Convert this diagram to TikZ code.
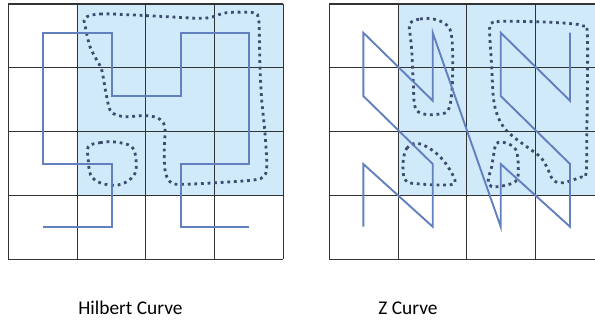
\documentclass[tikz,border=0pt]{standalone}
\usepackage{fontspec}
\setmainfont{Carlito}
\usetikzlibrary{positioning,calc}
\definecolor{CellBlue}{RGB}{208,234,250}
\definecolor{CurveBlue}{RGB}{98,128,192}
\definecolor{BlobGray}{RGB}{62,76,112}
\tikzset{
	cell/.style={draw=black!80,line width=1.1pt},
	zone/.style={fill=CellBlue,draw=none},
	curve/.style={draw=CurveBlue,line width=1.9pt,line join=miter},
	blob/.style={draw=BlobGray,line width=2.8pt,dash pattern=on 2.8pt off 3.8pt},
	caption/.style={font=\fontsize{19.4}{22}\selectfont,inner sep=0pt},
}

\begin{document}
\begin{tikzpicture}[x=1pt,y=-1pt]
					\useasboundingbox (0,0) rectangle (595,320);
					\clip (0,0) rectangle (595,320);
					\fill[zone] (77.3,4) rectangle (283.3,196);
					\fill[zone] (398,4) rectangle (604,196);
					\foreach \gx in {8.3,329.3} {
						\foreach \i in {0,...,4} {
							\draw[cell] ({\gx+68.75*\i},4) -- ({\gx+68.75*\i},259.3);
							\draw[cell] (\gx,{4+63.83*\i}) -- ({\gx+275},{4+63.83*\i});
						}
					}
					\foreach \n/\p in {1/{43.3,227.3},2/{111.7,227.3},3/{111.7,164},4/{43.3,164},
						5/{43.3,32.7},6/{111.7,32.7},7/{111.7,96},8/{180.7,96},9/{180.7,32.7},
						10/{248.7,32.7},11/{248.7,164},12/{180.7,164},13/{180.7,227.3},14/{248.7,227.3}}
					\coordinate (h\n) at (\p);
					\foreach \n/\p in {1/{363.3,226.7},2/{363.3,164},3/{432.7,226.7},4/{432.7,164},
						5/{363.3,96},6/{363.3,32.7},7/{432.7,100.7},8/{432.7,32.7},
						9/{500.7,226.7},10/{500.7,164},11/{570,226.7},12/{570,164},
						13/{500.7,96},14/{500.7,32.7},15/{570,100.7},16/{570,32.7}}
					\coordinate (z\n) at (\p);
					\draw[blob] plot[smooth cycle,tension=0.6] coordinates {(85,18.3) (100,14) (133.3,15) (166.7,16.7) (200,18.3) (213.3,16.7) (226.7,12.7) (253.3,12.7) (258.3,18.3) (259.3,33.3) (260,66.7) (261.7,100) (265,133.3) (266.7,166.7) (263.3,176.7) (253.3,180) (216.7,182.7) (180,184.3) (170,181.7) (165,170) (164.3,146.7) (165,128.3) (160,119.3) (146.7,115.7) (126.7,116.7) (116.7,115) (110,110) (106,93.3) (101.7,70) (96.7,60) (90,46.7) (86,30)};
					\draw[blob] plot[smooth cycle,tension=0.6] coordinates {(88.3,146.7) (100,142.7) (115,142) (131.7,146.7) (136,160) (135,173.3) (126.7,181.7) (115,185.3) (100,182.7) (90.7,175) (88.3,160)};
					\draw[blob] plot[smooth cycle,tension=0.6] coordinates {(410,23.3) (420,19) (433.3,19) (446.7,25) (451.7,36.7) (452.7,66.7) (451.7,93.3) (448.3,110) (440,114) (423.3,114) (415,106.7) (413.3,83.3) (411.7,50) (410,33.3)};
					\draw[blob] plot[smooth cycle,tension=0.6] coordinates {(403.3,160) (406.7,148.3) (415,143.3) (426.7,146.7) (440,156.7) (450,170) (455,182.7) (443.3,185) (420,184) (406.7,181.7) (403.3,173.3)};
					\draw[blob] plot[smooth cycle,tension=0.6] coordinates {(490,26.7) (496.7,21.7) (533.3,21.7) (566.7,23.3) (583.3,26) (587.3,33.3) (587.3,100) (586.7,133.3) (586,173.3) (580,177.3) (563.3,182.7) (553.3,180) (546.7,166.7) (540,156.7) (526.7,146.7) (513.3,136.7) (503.3,126.7) (496.7,113.3) (493.3,96.7) (491.7,66.7) (490,40)};
					\draw[blob] plot[smooth cycle,tension=0.6] coordinates {(493.3,156.7) (496.7,143.3) (506.7,143.3) (516,150) (518.3,166.7) (516.7,180) (506.7,185) (491.7,186.7) (488.3,180) (491.7,166.7)};
					\draw[curve] (h1) \foreach \n in {2,...,14} {-- (h\n)};
					\draw[curve] (z1) \foreach \n in {2,...,16} {-- (z\n)};
					\node[caption] (hilbert) at (130.5,308) {Hilbert Curve};
					\node[caption] (zorder) at (408,308) {Z Curve};
				\end{tikzpicture}
\end{document}
